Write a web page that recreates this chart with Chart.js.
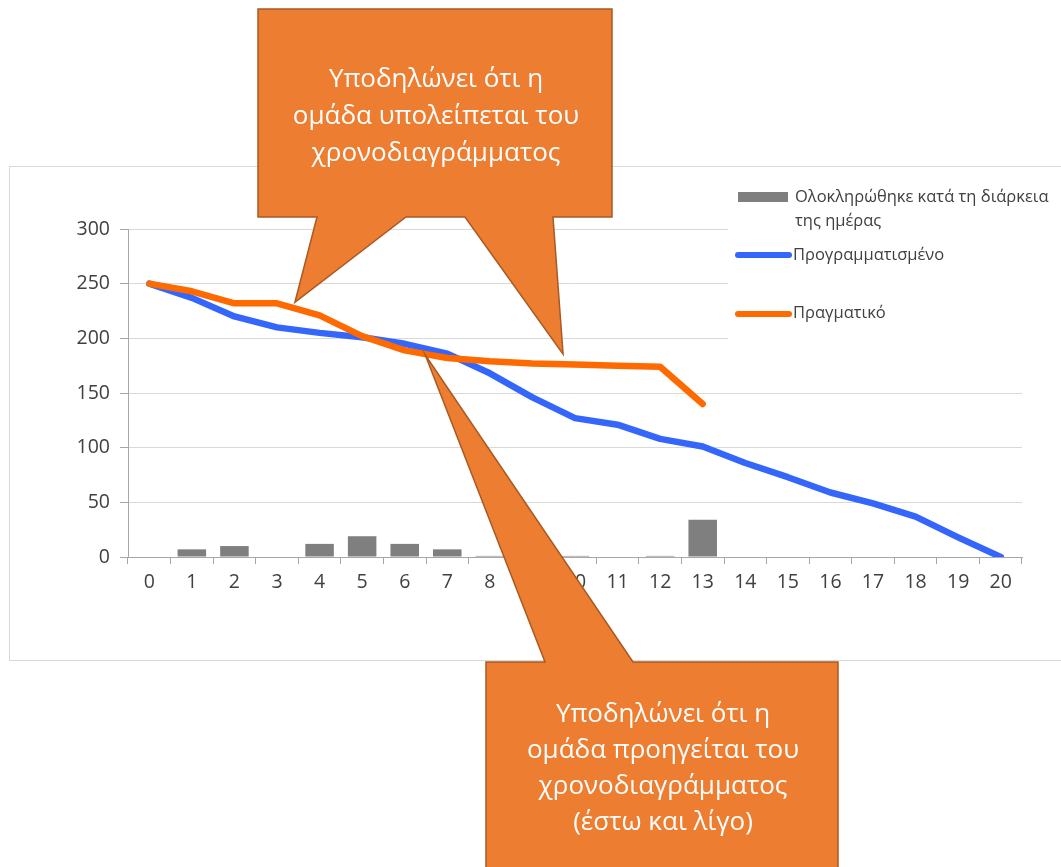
<!DOCTYPE html>
<html lang="el">
<head>
<meta charset="utf-8">
<title>Burndown</title>
<script src="https://cdn.jsdelivr.net/npm/chart.js@4/dist/chart.umd.min.js"></script>
<style>
  html, body { margin: 0; padding: 0; background: #ffffff; }
  #wrap { position: relative; width: 1061px; height: 867px; }
</style>
</head>
<body>
<div id="wrap"><canvas id="burndown" width="1061" height="867"></canvas></div>
<script>
// Days of the sprint
const days = ['0','1','2','3','4','5','6','7','8','9','10','11','12','13','14','15','16','17','18','19','20'];

// Work completed during each day
const completedPerDay = [0, 7, 10, 0, 12, 19, 12, 7, 1, 1, 1, 0, 1, 34];

// Remaining work, planned
const plannedRemaining = [250, 237, 220, 210, 205, 201, 195, 186, 168, 146, 127, 121, 108, 101, 86, 73, 59, 49, 37, 18, 0];

// Remaining work, actual
const actualRemaining = [250, 243, 232, 232, 221, 202, 189, 182, 179, 177, 176, 175, 174, 140];

// Y axis ticks
const yTicks = [0, 50, 100, 150, 200, 250, 300];

// Series names
const seriesNames = ['Ολοκληρώθηκε κατά τη διάρκεια της ημέρας', 'Προγραμματισμένο', 'Πραγματικό'];
const legendLines = [['Ολοκληρώθηκε κατά τη διάρκεια', 'της ημέρας'], ['Προγραμματισμένο'], ['Πραγματικό']];

// Callout texts
const behindText = ['Υποδηλώνει ότι η', 'ομάδα υπολείπεται του', 'χρονοδιαγράμματος'];
const aheadText = ['Υποδηλώνει ότι η', 'ομάδα προηγείται του', 'χρονοδιαγράμματος', '(έστω και λίγο)'];

const FONT = '"Open Sans", "Noto Sans", sans-serif';
const BAR_GREY = '#7f7f7f';
const PLAN_BLUE = '#3566fb';
const ACTUAL_ORANGE = '#ff6a00';
const CALLOUT_FILL = '#ed7d31';
const CALLOUT_EDGE = '#a85a24';
const TEXT_DARK = '#404040';

// Frame around the chart and the legend panel on its right
const framePlugin = {
  id: 'frame',
  beforeDraw(chart) {
    const ctx = chart.ctx;
    ctx.save();
    ctx.fillStyle = '#ffffff';
    ctx.fillRect(0, 0, chart.width, chart.height);
    ctx.strokeStyle = '#d9d9d9';
    ctx.lineWidth = 1;
    ctx.strokeRect(9.5, 166.5, 1200, 494);
    ctx.restore();
  },
  beforeDatasetsDraw(chart) {
    const ctx = chart.ctx;
    ctx.save();
    // legend panel sits over the top-right of the plot
    ctx.fillStyle = '#ffffff';
    ctx.fillRect(728, 167, 340, 190);

    ctx.font = '16.5px ' + FONT;
    ctx.textBaseline = 'middle';
    ctx.textAlign = 'left';

    // bar swatch
    ctx.fillStyle = BAR_GREY;
    ctx.fillRect(738, 192, 50, 10);
    ctx.fillStyle = TEXT_DARK;
    ctx.fillText(legendLines[0][0], 795, 197);
    ctx.fillText(legendLines[0][1], 795, 221);

    // planned line swatch
    ctx.lineCap = 'round';
    ctx.lineWidth = 6;
    ctx.strokeStyle = PLAN_BLUE;
    ctx.beginPath(); ctx.moveTo(738, 255); ctx.lineTo(789, 255); ctx.stroke();
    ctx.fillText(legendLines[1][0], 793, 255);

    // actual line swatch
    ctx.strokeStyle = ACTUAL_ORANGE;
    ctx.beginPath(); ctx.moveTo(738, 314); ctx.lineTo(789, 314); ctx.stroke();
    ctx.fillText(legendLines[2][0], 793, 313);
    ctx.restore();
  }
};

// Speech-bubble callouts pointing at the chart lines
const calloutPlugin = {
  id: 'callouts',
  afterDraw(chart) {
    const ctx = chart.ctx;
    const xs = chart.scales.x, ys = chart.scales.y;
    const at = (i, v) => [xs.getPixelForValue(i), ys.getPixelForValue(v)];

    const tipBehindA = at(3.42, 233);
    const tipBehindB = at(9.72, 185.5);
    const tipAhead = at(6.48, 185);

    ctx.save();
    ctx.fillStyle = CALLOUT_FILL;
    ctx.strokeStyle = CALLOUT_EDGE;
    ctx.lineWidth = 1.5;
    ctx.lineJoin = 'miter';

    // upper bubble with two pointers
    ctx.beginPath();
    ctx.moveTo(258, 9);
    ctx.lineTo(612, 9);
    ctx.lineTo(612, 217);
    ctx.lineTo(553, 217);
    ctx.lineTo(tipBehindB[0], tipBehindB[1]);
    ctx.lineTo(465, 217);
    ctx.lineTo(406, 217);
    ctx.lineTo(tipBehindA[0], tipBehindA[1]);
    ctx.lineTo(317, 217);
    ctx.lineTo(258, 217);
    ctx.closePath();
    ctx.fill();
    ctx.stroke();

    // lower bubble
    ctx.beginPath();
    ctx.moveTo(486, 662);
    ctx.lineTo(545, 662);
    ctx.lineTo(tipAhead[0], tipAhead[1]);
    ctx.lineTo(633, 662);
    ctx.lineTo(838, 662);
    ctx.lineTo(838, 900);
    ctx.lineTo(486, 900);
    ctx.closePath();
    ctx.fill();
    ctx.stroke();

    ctx.fillStyle = '#ffffff';
    ctx.font = '26px ' + FONT;
    ctx.textAlign = 'center';
    ctx.textBaseline = 'alphabetic';
    behindText.forEach((t, i) => ctx.fillText(t, 436, 87 + i * 37));
    aheadText.forEach((t, i) => ctx.fillText(t, 663, 722 + i * 36));
    ctx.restore();
  }
};

new Chart(document.getElementById('burndown'), {
  data: {
    labels: days,
    datasets: [
      {
        type: 'line',
        label: seriesNames[2],
        data: actualRemaining,
        borderColor: ACTUAL_ORANGE,
        backgroundColor: ACTUAL_ORANGE,
        borderWidth: 6.5,
        pointRadius: 0,
        tension: 0,
        borderCapStyle: 'round',
        borderJoinStyle: 'round'
      },
      {
        type: 'line',
        label: seriesNames[1],
        data: plannedRemaining,
        borderColor: PLAN_BLUE,
        backgroundColor: PLAN_BLUE,
        borderWidth: 6.5,
        pointRadius: 0,
        tension: 0,
        borderCapStyle: 'round',
        borderJoinStyle: 'round'
      },
      {
        type: 'bar',
        label: seriesNames[0],
        data: completedPerDay,
        backgroundColor: BAR_GREY,
        borderWidth: 0,
        categoryPercentage: 1,
        barPercentage: 0.67
      }
    ]
  },
  options: {
    responsive: false,
    animation: false,
    devicePixelRatio: 1,
    layout: { padding: { left: 0, top: 229, right: 39, bottom: 0 } },
    plugins: { legend: { display: false }, tooltip: { enabled: false }, title: { display: false } },
    scales: {
      x: {
        type: 'category',
        offset: true,
        afterFit(scale) { scale.height = 310; },
        grid: { drawOnChartArea: false, drawTicks: true, tickLength: 7, tickColor: '#a6a6a6', offset: true },
        border: { color: '#a6a6a6', width: 1 },
        ticks: { color: TEXT_DARK, font: { family: FONT, size: 19.5 }, padding: 7, maxRotation: 0, autoSkip: false }
      },
      y: {
        min: yTicks[0],
        max: yTicks[yTicks.length - 1],
        afterFit(scale) { scale.width = 128; },
        afterBuildTicks(scale) { scale.ticks = yTicks.map(v => ({ value: v })); },
        grid: { color: '#d9d9d9', lineWidth: 1, drawTicks: true, tickLength: 8, tickColor: '#a6a6a6' },
        border: { color: '#a6a6a6', width: 1 },
        ticks: { color: TEXT_DARK, font: { family: FONT, size: 19.5 }, padding: 10 }
      }
    }
  },
  plugins: [framePlugin, calloutPlugin]
});
</script>
</body>
</html>
